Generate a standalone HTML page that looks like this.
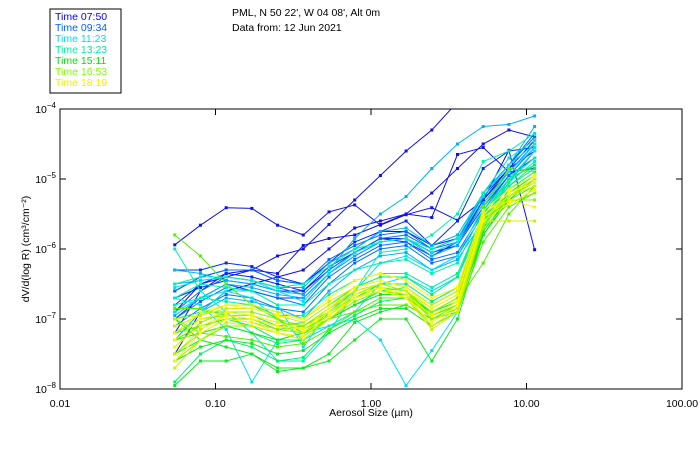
<!DOCTYPE html>
<html><head><meta charset="utf-8"><style>
body{margin:0;background:#fff;}
svg{display:block;font-family:"Liberation Sans",sans-serif;}
</style></head><body>
<svg id="chart" width="700" height="450">
<g>
<rect x="50" y="9" width="71" height="84" fill="#fff" stroke="#000"/>
<g font-size="10.5">
<text x="55" y="20" fill="#0000ff">Time 07:50</text>
<text x="55" y="31" fill="#0060ff">Time 09:34</text>
<text x="55" y="42" fill="#00d8ff">Time 11:23</text>
<text x="55" y="53" fill="#00f0a0">Time 13:23</text>
<text x="55" y="64" fill="#00e000">Time 15:11</text>
<text x="55" y="75" fill="#80ff00">Time 16:53</text>
<text x="55" y="86" fill="#f0f000">Time 18:19</text>
</g></g>
<text x="232" y="16" font-size="10.5">PML, N 50 22', W 04 08', Alt 0m</text>
<text x="232" y="31" font-size="10.5">Data from: 12 Jun 2021</text>
<text transform="translate(29,249) rotate(-90)" text-anchor="middle" font-size="10.5">dV/d(log R) (cm³/cm⁻²)</text>
<text x="371" y="416" text-anchor="middle" font-size="10.5">Aerosol Size (µm)</text>
<defs><clipPath id="clip"><rect x="60" y="109" width="622" height="280"/></clipPath></defs>
<g id="series" clip-path="url(#clip)"></g>
<rect x="60" y="109" width="622" height="280" fill="none" stroke="#000"/>
<g id="axes" font-size="10.5"></g>
</svg>
<script>
const xTickValues=[0.01,0.1,1,10,100];
const xTickLabels=["0.01","0.10","1.00","10.00","100.00"];
const yTickExps=[-4,-5,-6,-7,-8];
const binLogStart=-1.262;
const binLogStep=0.1653;
const palette=["#1010e8","#0030f0","#0070ff","#00b0ff","#00e0f0","#00f0b0","#00f070","#10e820","#50f000","#90f000","#d0f000","#f8f800"];
const s0=[-5.94,-5.66,-5.41,-5.42,-5.66,-5.8,-5.47,-5.37,-5.66,-5.51,-5.41,-5.59,-5.30,-4.59,-6.01];
const s1=[-7.2,-6.6,-6.35,-6.3,-6.1,-6.0,-5.65,-5.3,-4.95,-4.6,-4.3,-3.9,-3.7,-3.6,-3.5];
const s2=[-6.9,-6.5,-6.4,-6.3,-6.35,-5.95,-5.85,-5.8,-5.65,-5.5,-5.2,-4.85,-4.5,-4.3,-4.4];
const s3=[-7.5,-6.9,-6.6,-6.5,-6.4,-6.3,-6.0,-5.7,-5.6,-5.5,-5.55,-4.65,-4.55,-4.9,-4.85];
const s4=[-6.6,-6.4,-6.3,-6.3,-6.45,-6.5,-6.2,-6.0,-5.75,-5.75,-5.95,-5.85,-5.25,-4.85,-4.6];
const s5=[-7.0,-6.7,-6.5,-6.6,-6.7,-6.7,-6.35,-6.1,-5.9,-5.85,-6.05,-5.95,-5.4,-4.95,-4.7];
const s6=[-6.7,-6.55,-6.45,-6.5,-6.6,-6.6,-6.25,-6.05,-5.85,-5.9,-6.1,-5.9,-5.3,-4.9,-4.5];
const s7=[-6.3,-6.3,-6.2,-6.25,-6.4,-6.5,-6.2,-5.9,-5.75,-5.6,-5.95,-5.6,-4.85,-4.6,-4.55];
const s8=[-6.8,-6.5,-6.35,-6.4,-6.5,-6.6,-6.3,-6.05,-5.85,-5.85,-6.05,-5.95,-5.3,-4.85,-4.45];
const s9=[-6.6,-6.4,-6.3,-6.3,-6.45,-6.5,-6.15,-5.95,-5.8,-5.75,-6.0,-5.85,-5.25,-4.8,-4.4];
const s10=[-7.0,-6.75,-6.55,-6.6,-6.7,-6.8,-6.4,-6.15,-5.95,-5.9,-6.15,-6.05,-5.45,-4.95,-4.55];
const s11=[-6.9,-6.6,-6.4,-6.45,-6.55,-6.65,-6.3,-6.05,-5.85,-5.8,-6.0,-5.9,-5.2,-4.8,-4.35];
const s12=[-7.1,-6.85,-6.65,-6.7,-6.85,-6.9,-6.5,-6.2,-6.0,-5.95,-6.2,-6.1,-5.5,-5.0,-4.7];
const s13=[-6.5,-6.45,-6.4,-6.45,-6.55,-6.55,-6.2,-6.0,-5.75,-5.7,-5.95,-5.8,-5.2,-4.8,-4.25];
const s14=[-7.3,-6.9,-6.7,-6.75,-6.85,-7.0,-6.6,-6.3,-6.1,-6.05,-6.3,-6.15,-5.6,-5.05,-4.6];
const s15=[-6.95,-6.7,-6.5,-6.55,-6.65,-6.7,-6.35,-6.1,-5.9,-5.85,-6.1,-5.95,-5.35,-4.9,-4.5];
const s16=[-6.3,-6.35,-6.45,-6.5,-6.6,-6.65,-6.3,-5.85,-5.5,-5.25,-4.85,-4.5,-4.25,-4.22,-4.1];
const s17=[-6.55,-6.45,-6.4,-6.45,-6.6,-6.75,-6.35,-6.05,-5.9,-5.85,-6.05,-5.9,-5.25,-4.8,-4.5];
const s18=[-6.7,-6.8,-7.15,-7.9,-7.3,-7.2,-7.1,-7.0,-7.3,-7.95,-7.45,-6.9,-5.5,-5.0,-4.8];
const s19=[-7.2,-6.9,-6.6,-6.7,-7.0,-7.3,-7.1,-6.9,-6.5,-6.4,-6.6,-6.4,-5.6,-5.0,-4.6];
const s20=[-6.9,-6.7,-6.6,-6.6,-6.8,-7.4,-6.9,-6.6,-6.2,-6.1,-6.3,-6.1,-5.4,-4.9,-4.55];
const s21=[-6.0,-6.6,-6.9,-7.2,-7.6,-7.6,-7.2,-6.6,-6.05,-6.0,-5.8,-5.5,-4.75,-4.6,-4.35];
const s22=[-6.5,-6.4,-6.4,-6.45,-6.55,-6.5,-6.25,-6.0,-5.9,-5.85,-6.0,-5.85,-5.2,-4.7,-4.45];
const s23=[-6.7,-6.5,-6.55,-6.6,-6.8,-6.8,-6.5,-6.3,-6.2,-6.15,-6.35,-6.2,-5.45,-5.0,-4.7];
const s24=[-6.8,-6.7,-6.75,-6.8,-6.95,-6.95,-6.65,-6.45,-6.35,-6.35,-6.55,-6.35,-5.5,-5.05,-4.75];
const s25=[-7.0,-6.9,-6.9,-6.95,-7.1,-7.05,-6.8,-6.55,-6.4,-6.4,-6.65,-6.4,-5.5,-5.0,-4.8];
const s26=[-7.5,-7.3,-7.1,-7.2,-7.35,-7.3,-7.0,-6.8,-6.6,-6.55,-6.8,-6.6,-5.6,-5.1,-4.85];
const s27=[-7.9,-7.5,-7.3,-7.4,-7.6,-7.55,-7.15,-6.95,-6.75,-6.7,-6.9,-6.7,-5.7,-5.15,-4.9];
const s28=[-7.2,-7.1,-7.0,-7.1,-7.3,-7.3,-7.0,-6.7,-6.5,-6.5,-6.75,-6.55,-5.55,-5.1,-4.8];
const s29=[-7.95,-7.6,-7.6,-7.5,-7.75,-7.7,-7.5,-7.05,-6.9,-6.8,-7.0,-6.85,-5.8,-5.25,-5.0];
const s30=[-7.0,-7.3,-7.4,-7.5,-7.7,-7.7,-7.6,-7.3,-7.0,-7.0,-7.6,-7.0,-5.8,-5.3,-5.0];
const s31=[-7.3,-7.2,-7.1,-7.2,-7.3,-7.2,-7.0,-6.8,-6.65,-6.65,-6.9,-6.75,-5.65,-5.2,-4.95];
const s32=[-7.6,-7.4,-7.3,-7.35,-7.5,-7.45,-7.2,-7.0,-6.85,-6.85,-7.1,-6.9,-5.75,-5.25,-5.0];
const s33=[-6.85,-6.85,-6.95,-7.0,-7.15,-7.1,-6.9,-6.7,-6.6,-6.65,-6.95,-6.8,-5.4,-4.85,-4.9];
const s34=[-5.8,-6.1,-6.5,-6.8,-7.0,-7.2,-7.0,-6.9,-6.8,-6.8,-7.0,-6.9,-5.9,-5.4,-5.2];
const s35=[-7.0,-7.2,-7.25,-7.3,-7.4,-7.35,-7.15,-6.9,-6.7,-6.7,-6.95,-6.75,-6.2,-5.5,-5.1];
const s36=[-7.3,-7.1,-7.0,-7.0,-7.1,-7.15,-6.95,-6.7,-6.55,-6.6,-6.95,-6.8,-5.6,-5.3,-5.1];
const s37=[-7.6,-7.3,-7.1,-7.1,-7.2,-7.25,-7.0,-6.75,-6.6,-6.7,-7.1,-6.9,-5.7,-5.35,-5.2];
const s38=[-7.2,-7.0,-6.95,-6.95,-7.05,-7.1,-6.85,-6.65,-6.5,-6.6,-6.9,-6.7,-5.55,-5.25,-5.0];
const s39=[-7.5,-7.2,-7.0,-7.05,-7.15,-7.2,-6.9,-6.7,-6.6,-6.65,-7.0,-6.85,-5.65,-5.3,-5.3];
const s40=[-7.4,-7.05,-6.9,-6.9,-7.0,-7.1,-6.85,-6.6,-6.5,-6.6,-7.0,-6.8,-5.6,-5.25,-5.05];
const s41=[-7.7,-7.3,-7.05,-7.1,-7.2,-7.3,-7.0,-6.7,-6.55,-6.65,-7.1,-6.85,-5.55,-5.25,-5.1];
const s42=[-7.0,-6.95,-6.85,-6.85,-6.95,-7.05,-6.8,-6.6,-6.5,-6.6,-6.85,-6.65,-5.5,-5.25,-5.0];
const s43=[-7.5,-7.15,-6.95,-7.0,-7.1,-7.2,-6.95,-6.65,-6.55,-6.7,-7.15,-6.9,-5.6,-5.6,-5.6];
const s44=[-7.1,-6.95,-6.8,-6.8,-6.9,-7.0,-6.75,-6.55,-6.45,-6.55,-6.8,-6.6,-5.5,-5.2,-5.0];
const s45=[-7.3,-7.0,-6.9,-6.95,-7.05,-7.15,-6.9,-6.65,-6.55,-6.65,-6.95,-6.75,-5.55,-5.3,-5.4];
const s46=[-7.2,-6.9,-6.8,-6.85,-6.95,-7.0,-6.7,-6.45,-6.35,-6.45,-6.7,-6.55,-5.45,-5.15,-4.95];
const s47=[-7.4,-7.1,-6.95,-7.0,-7.1,-7.15,-6.85,-6.55,-6.45,-6.55,-6.85,-6.65,-5.5,-5.2,-5.05];
const s48=[-7.6,-7.2,-7.0,-7.05,-7.2,-7.25,-6.95,-6.7,-6.6,-6.7,-7.05,-6.8,-5.6,-5.35,-5.15];
const seriesList=[s0,s1,s2,s3,s4,s5,s6,s7,s8,s9,s10,s11,s12,s13,s14,s15,s16,s17,s18,s19,s20,s21,s22,s23,s24,s25,s26,s27,s28,s29,s30,s31,s32,s33,s34,s35,s36,s37,s38,s39,s40,s41,s42,s43,s44,s45,s46,s47,s48];

const NS="http://www.w3.org/2000/svg";
const X0=60,X1=682,Y0=109,Y1=389;
function xPos(v){return X0+(Math.log10(v)+2)/4*(X1-X0);}
function xPosLog(l){return X0+(l+2)/4*(X1-X0);}
function yPosExp(e){return Y0+(-4-e)/4*(Y1-Y0);}
const sg=document.getElementById('series');
seriesList.forEach((s,i)=>{
  const col=palette[Math.min(palette.length-1,Math.floor(i/seriesList.length*palette.length))];
  const g=document.createElementNS(NS,'g');
  
  
  const pts=s.map((e,j)=>[xPosLog(binLogStart+j*binLogStep),yPosExp(e)]);
  const pl=document.createElementNS(NS,'polyline');
  pl.setAttribute('points',pts.map(p=>p[0].toFixed(1)+','+p[1].toFixed(1)).join(' '));
  pl.setAttribute('fill','none');
  pl.setAttribute('stroke',col);
  pl.setAttribute('stroke-width','1');
  
  
  g.appendChild(pl);
  pts.forEach(p=>{
    const r=document.createElementNS(NS,'rect');
    r.setAttribute('x',p[0]-1.5);
    r.setAttribute('y',p[1]-1.5);
    r.setAttribute('width',3);
    r.setAttribute('height',3);
    r.setAttribute('fill',col);
    
    
    g.appendChild(r);
  });
  sg.appendChild(g);
});
const ax=document.getElementById('axes');
xTickValues.forEach((v,i)=>{
  const x=xPos(v);
  [[Y1,Y1-6],[Y0,Y0+6]].forEach(([a,b])=>{
    const l=document.createElementNS(NS,'line');
    l.setAttribute('x1',x);
    l.setAttribute('x2',x);
    l.setAttribute('y1',a);
    l.setAttribute('y2',b);
    l.setAttribute('stroke','#000');
    
    
    ax.appendChild(l);
  });
  const t=document.createElementNS(NS,'text');
  t.setAttribute('x',x);
  t.setAttribute('y',Y1+18);
  t.setAttribute('text-anchor','middle');
  t.textContent=xTickLabels[i];
  
  
  ax.appendChild(t);
});
yTickExps.forEach(e=>{
  const y=yPosExp(e);
  [[X0,X0+6],[X1,X1-6]].forEach(([a,b])=>{
    const l=document.createElementNS(NS,'line');
    l.setAttribute('x1',a);
    l.setAttribute('x2',b);
    l.setAttribute('y1',y);
    l.setAttribute('y2',y);
    l.setAttribute('stroke','#000');
    
    
    ax.appendChild(l);
  });
  const t=document.createElementNS(NS,'text');
  t.setAttribute('x',X0-4);
  t.setAttribute('y',y+4);
  t.setAttribute('text-anchor','end');
  t.innerHTML='10<tspan dy="-5" font-size="8">−'+(-e)+'</tspan>';
  
  
  ax.appendChild(t);
});
</script>
</body></html>
